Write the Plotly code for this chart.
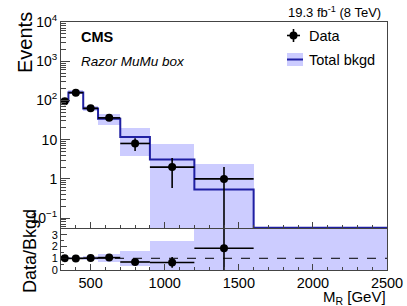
import numpy as np
import plotly.graph_objects as go

# ---------------- data ----------------
bin_edges = [300, 350, 450, 550, 700, 900, 1200, 1600, 2500]
data_counts = [96, 158, 63, 36, 8, 2, 1, 0]
bkg_total = [95, 160, 62, 34, 11.7, 3.1, 0.54, 0.012]
bkg_band_lo = [84, 145, 54, 23.6, 3.8, 0, 0, 0]
bkg_band_hi = [113, 180, 72, 46, 19.3, 7.8, 2.4, 0.06]
y_tick_vals = [0.1, 1, 10, 100, 1000, 10000]
y_tick_text = ["10<sup>\u22121</sup>", "1", "10", "10<sup>2</sup>", "10<sup>3</sup>", "10<sup>4</sup>"]
x_tick_vals = [500, 1000, 1500, 2000, 2500]
ratio_tick_vals = [0, 1, 2, 3]

# ---------------- derived ----------------
edges = np.array(bin_edges, float)
centers = 0.5 * (edges[:-1] + edges[1:])
widths = edges[1:] - edges[:-1]
data = np.array(data_counts, float)
bkg = np.array(bkg_total, float)
blo = np.array(bkg_band_lo, float)
bhi = np.array(bkg_band_hi, float)

YMIN_LOG, YMAX_LOG = np.log10(0.056), 4.0
ymin = 10 ** YMIN_LOG

BAND = "#ccccff"
LINE = "#1f1fa3"
FONT = "Liberation Sans"

W, H = 407, 306
A_L, A_R, A_T, A_B = 61, 387, 22, 270   # plot-area edges in pixels
L, T, R, B = A_L, A_T, W - A_R, H - A_B
PW, PH = A_R - A_L, A_B - A_T


def px(x):
    return (x - A_L) / PW


def py(y):
    return (A_B - y) / PH


fig = go.Figure()

# background uncertainty band (top)
lo_plot = np.where(blo > 0, blo, 1e-4)
fig.add_trace(go.Bar(x=centers, y=bhi - lo_plot, base=lo_plot, width=widths,
                     marker=dict(color=BAND, line=dict(width=0)),
                     xaxis="x", yaxis="y", showlegend=False, hoverinfo="skip"))

# background step line (top), clipped to the frame bottom as ROOT does
step_y = np.maximum(np.append(bkg, bkg[-1]), ymin * 1.01)
fig.add_trace(go.Scatter(x=edges, y=step_y, mode="lines", line_shape="hv",
                         line=dict(color=LINE, width=2), xaxis="x", yaxis="y",
                         showlegend=False))

# data points (top)
m = data > 0
err = np.sqrt(data[m])
errm = np.minimum(err, data[m] * 0.999)
fig.add_trace(go.Scatter(x=centers[m], y=data[m], mode="markers",
                         marker=dict(color="black", size=8),
                         error_x=dict(type="data", array=widths[m] / 2, width=0, thickness=1.6, color="black"),
                         error_y=dict(type="data", array=err, arrayminus=errm, width=0, thickness=1.6, color="black"),
                         xaxis="x", yaxis="y", showlegend=False))

# ratio band
rlo = blo / bkg
rhi = np.minimum(bhi / bkg, 10)
fig.add_trace(go.Bar(x=centers, y=rhi - rlo, base=rlo, width=widths,
                     marker=dict(color=BAND, line=dict(width=0)),
                     xaxis="x2", yaxis="y2", showlegend=False, hoverinfo="skip"))

# ratio points
ratio = data[m] / bkg[m]
rerr = err / bkg[m]
fig.add_trace(go.Scatter(x=centers[m], y=ratio, mode="markers",
                         marker=dict(color="black", size=8),
                         error_x=dict(type="data", array=widths[m] / 2, width=0, thickness=1.6, color="black"),
                         error_y=dict(type="data", array=rerr, width=0, thickness=1.6, color="black"),
                         xaxis="x2", yaxis="y2", showlegend=False))

# dashed line at ratio 1
fig.add_shape(type="line", xref="x2", yref="y2", x0=edges[0], x1=edges[-1], y0=1, y1=1,
              line=dict(color="black", width=1, dash="dash"))

minor_log = [k * 10.0 ** e for e in range(-2, 4) for k in range(2, 10)]
minor_log = [v for v in minor_log if ymin < v < 1e4]

top_dom = [py(228), 1]
rat_dom = [0, py(229)]

fig.update_layout(
    width=W, height=H, margin=dict(l=L, r=R, t=T, b=B, autoexpand=False),
    paper_bgcolor="white", plot_bgcolor="white", bargap=0, barmode="overlay",
    font=dict(family=FONT, color="black"),
    xaxis=dict(domain=[0, 1], range=[edges[0], edges[-1]], anchor="y",
               showticklabels=False, tickvals=x_tick_vals, ticks="inside", ticklen=6,
               minor=dict(dtick=100, ticks="inside", ticklen=3, showgrid=False),
               showline=True, linecolor="#444", linewidth=1, mirror=True,
               showgrid=False, zeroline=False),
    yaxis=dict(domain=top_dom, type="log", range=[YMIN_LOG, YMAX_LOG], anchor="x",
               tickvals=y_tick_vals, ticktext=y_tick_text, ticks="inside", ticklen=9,
               tickfont=dict(size=14, family=FONT),
               minor=dict(tickvals=minor_log, ticks="inside", ticklen=5, showgrid=False),
               showline=True, linecolor="#444", linewidth=1, mirror=True,
               showgrid=False, zeroline=False),
    xaxis2=dict(domain=[0, 1], range=[edges[0], edges[-1]], anchor="y2",
                tickvals=x_tick_vals, ticks="inside", ticklen=6,
                tickfont=dict(size=14.5, family=FONT),
                minor=dict(dtick=100, ticks="inside", ticklen=3, showgrid=False),
                showline=True, linecolor="#444", linewidth=1, mirror=True,
                showgrid=False, zeroline=False),
    yaxis2=dict(domain=rat_dom, range=[0, 3.5], anchor="x2",
                tickvals=ratio_tick_vals, ticks="inside", ticklen=6,
                tickfont=dict(size=11, family=FONT),
                minor=dict(dtick=0.5, ticks="inside", ticklen=3, showgrid=False),
                showline=True, linecolor="#444", linewidth=1, mirror=True,
                showgrid=False, zeroline=False),
)

ann = [
    dict(text="Events", x=px(25), y=py(43), textangle=-90, xanchor="center", yanchor="middle",
         font=dict(size=20)),
    dict(text="Data/Bkgd", x=px(30), y=py(251), textangle=-90, xanchor="center", yanchor="middle",
         font=dict(size=18)),
    dict(text="M<sub>R</sub> [GeV]", x=px(388), y=py(297.5), xanchor="right", yanchor="middle",
         font=dict(size=15)),
    dict(text="19.3 fb<sup>-1</sup> (8 TeV)", x=px(383), y=py(12), xanchor="right", yanchor="middle",
         font=dict(size=13)),
    dict(text="<b>CMS</b>", x=px(79), y=py(37), xanchor="left", yanchor="middle",
         font=dict(size=14.5)),
    dict(text="<i>Razor MuMu box</i>", x=px(79), y=py(62), xanchor="left", yanchor="middle",
         font=dict(size=13.5)),
    dict(text="Data", x=px(307), y=py(36), xanchor="left", yanchor="middle", font=dict(size=14.5)),
    dict(text="Total bkgd", x=px(307), y=py(60), xanchor="left", yanchor="middle", font=dict(size=14.5)),
]
for a in ann:
    a.update(xref="paper", yref="paper", showarrow=False)
    fig.add_annotation(**a)

# manual legend symbols
fig.add_shape(type="rect", xref="paper", yref="paper", x0=px(287), x1=px(303), y0=py(53), y1=py(66),
              fillcolor=BAND, line=dict(width=0), layer="above")
fig.add_shape(type="line", xref="paper", yref="paper", x0=px(287), x1=px(303), y0=py(59.5), y1=py(59.5),
              line=dict(color=LINE, width=2))
fig.add_shape(type="line", xref="paper", yref="paper", x0=px(287), x1=px(300), y0=py(35.5), y1=py(35.5),
              line=dict(color="black", width=1.6))
fig.add_shape(type="line", xref="paper", yref="paper", x0=px(293.5), x1=px(293.5), y0=py(29), y1=py(42),
              line=dict(color="black", width=1.6))
fig.add_shape(type="circle", xref="paper", yref="paper", x0=px(289.5), x1=px(297.5), y0=py(31.5), y1=py(39.5),
              fillcolor="black", line=dict(width=0))

fig.write_html("out.html", config={"displayModeBar": False},
               post_script="document.body.style.margin='0';document.body.style.padding='0';")
